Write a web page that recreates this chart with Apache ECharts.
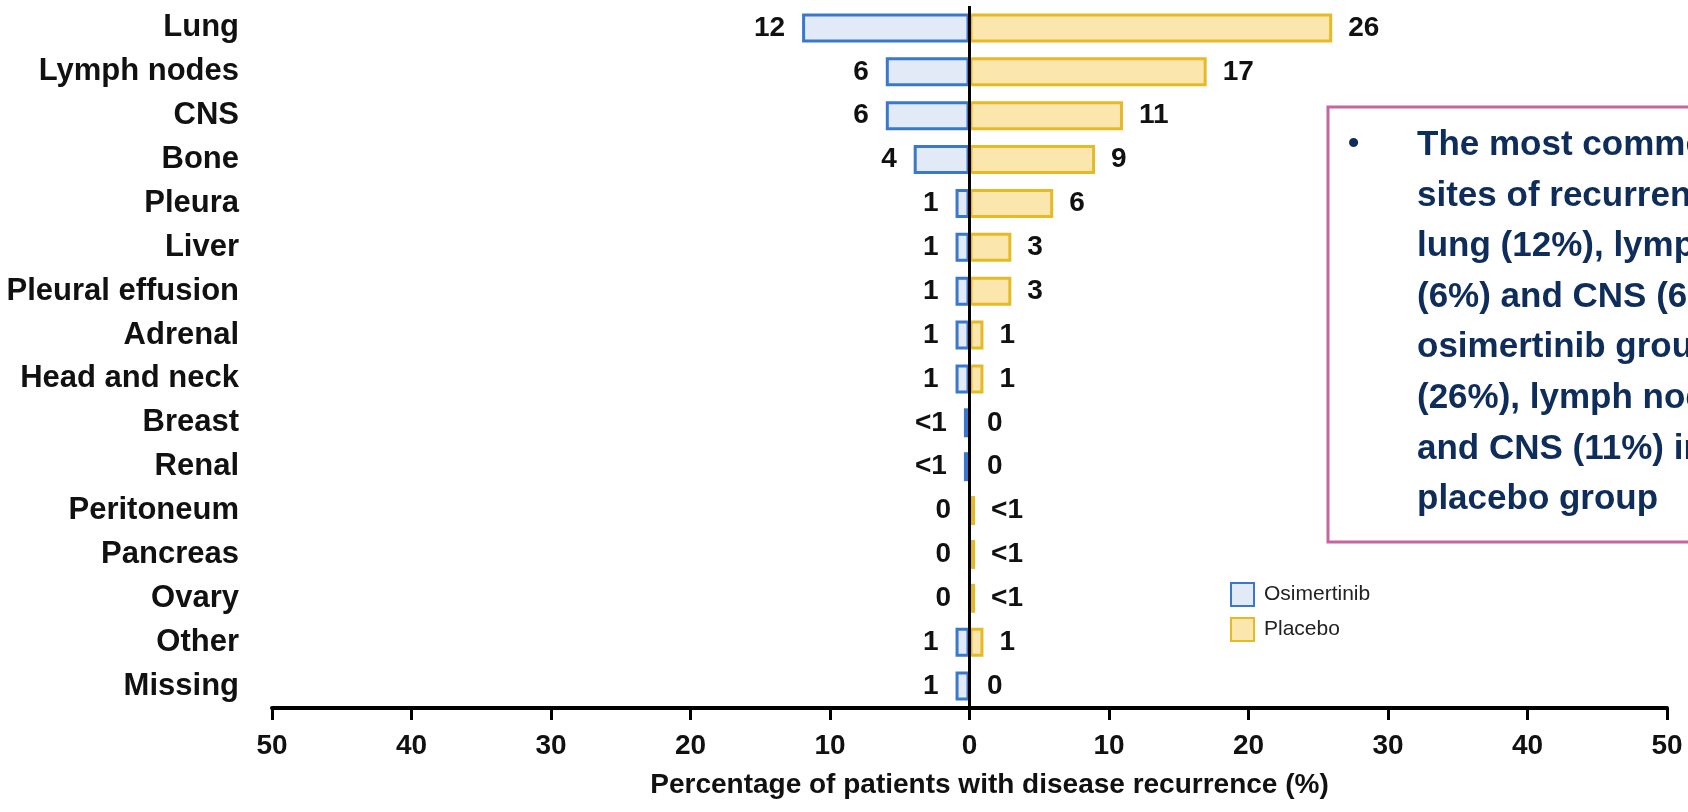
<!DOCTYPE html>
<html>
<head>
<meta charset="utf-8">
<script src="https://cdn.jsdelivr.net/npm/echarts@6/dist/echarts.min.js"></script>
<style>
  html, body { margin: 0; padding: 0; background: #ffffff; }
  #chart { width: 1688px; height: 812px; }
</style>
</head>
<body>
<div id="chart"></div>
<script>
// Sites of disease recurrence, % of patients per arm
const categories = ['Lung', 'Lymph nodes', 'CNS', 'Bone', 'Pleura', 'Liver', 'Pleural effusion',
  'Adrenal', 'Head and neck', 'Breast', 'Renal', 'Peritoneum', 'Pancreas', 'Ovary', 'Other', 'Missing'];

// "<1" entries are drawn as a small sliver below 1%
const osimertinibValues = [12, 6, 6, 4, 1, 1, 1, 1, 1, 0.4, 0.4, 0, 0, 0, 1, 1];
const osimertinibLabels = ['12', '6', '6', '4', '1', '1', '1', '1', '1', '<1', '<1', '0', '0', '0', '1', '1'];

const placeboValues = [26, 17, 11, 9, 6, 3, 3, 1, 1, 0, 0, 0.4, 0.4, 0.4, 1, 0];
const placeboLabels = ['26', '17', '11', '9', '6', '3', '3', '1', '1', '0', '0', '<1', '<1', '<1', '1', '0'];

const xTickValues = [50, 40, 30, 20, 10, 0, 10, 20, 30, 40, 50];

const seriesNames = ['Osimertinib', 'Placebo'];

const noteLines = [
  'The most common',
  'sites of recurrence were',
  'lung (12%), lymph nodes',
  '(6%) and CNS (6%) in the',
  'osimertinib group and lung',
  '(26%), lymph nodes (17%)',
  'and CNS (11%) in the',
  'placebo group'
];

const NARROW = '"Liberation Sans Narrow", "Arial Narrow", "Liberation Sans", Arial, sans-serif';
const SANS = '"Liberation Sans", Arial, Helvetica, sans-serif';

const chart = echarts.init(document.getElementById('chart'), null, { renderer: 'canvas' });

const labelStyle = {
  show: true,
  fontFamily: NARROW,
  fontWeight: 'bold',
  fontSize: 28,
  color: '#111111'
};

chart.setOption({
  backgroundColor: '#ffffff',
  animation: false,
  grid: { left: 272, right: 21, top: 6, bottom: 104, containLabel: false, outerBoundsMode: 'none' },
  legend: {
    orient: 'vertical',
    left: 1230,
    top: 582,
    padding: 0,
    itemWidth: 23,
    itemHeight: 23,
    itemGap: 10,
    icon: 'rect',
    data: seriesNames,
    textStyle: {
      fontFamily: NARROW,
      fontSize: 21,
      color: '#222222',
      padding: [0, 0, 0, 5]
    }
  },
  xAxis: {
    type: 'value',
    min: -50,
    max: 50,
    interval: 10,
    axisLine: { show: true, onZero: false, lineStyle: { color: '#000000', width: 4 } },
    axisTick: { show: true, length: 12, lineStyle: { color: '#000000', width: 3 } },
    splitLine: { show: false },
    axisLabel: {
      margin: 24,
      fontFamily: NARROW,
      fontWeight: 'bold',
      fontSize: 28,
      color: '#111111',
      formatter: function (v) {
        const i = Math.round((v + 50) / 10);
        return String(xTickValues[i]);
      }
    },
    name: 'Percentage of patients with disease recurrence (%)',
    nameLocation: 'middle',
    nameGap: 63,
    nameTextStyle: {
      fontFamily: NARROW,
      fontWeight: 'bold',
      fontSize: 28,
      color: '#111111',
      padding: [0, 0, 0, 40]
    }
  },
  yAxis: {
    type: 'category',
    inverse: true,
    data: categories,
    axisLine: { show: false },
    axisTick: { show: false },
    splitLine: { show: false },
    axisLabel: {
      interval: 0,
      margin: 33,
      fontFamily: NARROW,
      fontWeight: 'bold',
      fontSize: 31,
      color: '#111111'
    }
  },
  series: [
    {
      name: seriesNames[0],
      type: 'bar',
      barWidth: 29,
      barGap: '-100%',
      data: osimertinibValues.map(v => -v),
      itemStyle: { color: '#e2eaf7', borderColor: '#3a78cc', borderWidth: 3 },
      label: Object.assign({}, labelStyle, {
        position: 'left',
        distance: 17,
        formatter: p => osimertinibLabels[p.dataIndex]
      }),
      markLine: {
        silent: true,
        symbol: 'none',
        label: { show: false },
        lineStyle: { color: '#000000', width: 3, type: 'solid' },
        data: [{ xAxis: 0 }]
      }
    },
    {
      name: seriesNames[1],
      type: 'bar',
      barWidth: 29,
      barGap: '-100%',
      data: placeboValues,
      itemStyle: { color: '#fbe6ae', borderColor: '#e6b927', borderWidth: 3 },
      label: Object.assign({}, labelStyle, {
        position: 'right',
        distance: 16,
        formatter: p => placeboLabels[p.dataIndex]
      })
    }
  ],
  graphic: [
    {
      type: 'rect',
      z: 10,
      shape: { x: 1328, y: 107, width: 420, height: 435 },
      style: { fill: '#ffffff', stroke: '#c4679e', lineWidth: 3 }
    },
    {
      type: 'text',
      z: 11,
      left: 1348,
      top: 128,
      style: {
        text: '•',
        font: 'bold 32px ' + SANS,
        fill: '#0f2d5a'
      }
    },
    {
      type: 'text',
      z: 11,
      left: 1417,
      top: 120,
      style: {
        text: noteLines.join('\n'),
        font: 'bold 35px ' + SANS,
        lineHeight: 50.6,
        fill: '#0f2d5a'
      }
    }
  ]
});
</script>
</body>
</html>
